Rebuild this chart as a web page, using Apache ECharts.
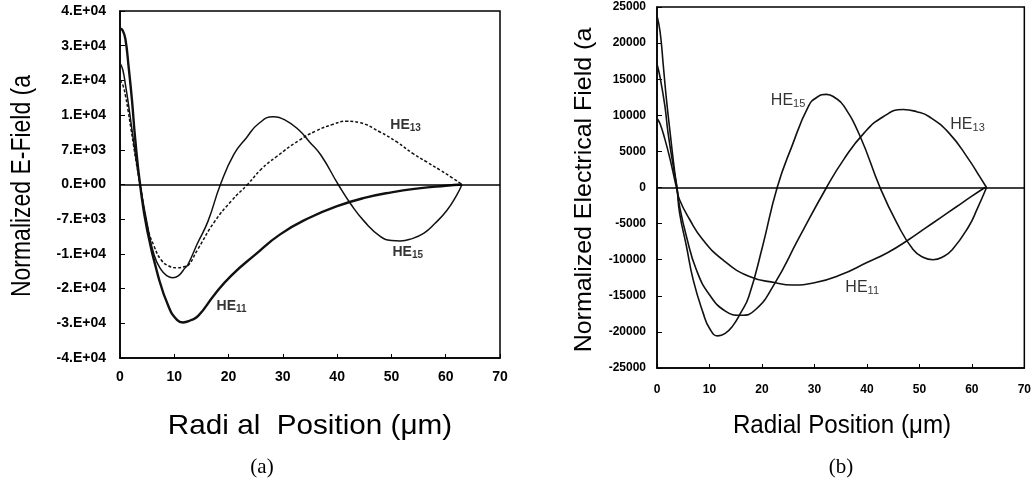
<!DOCTYPE html>
<html><head><meta charset="utf-8">
<script src="https://cdn.jsdelivr.net/npm/echarts@6/dist/echarts.min.js"></script>
<style>html,body{margin:0;padding:0;background:#fff}#c{width:1034px;height:485px}</style>
</head><body><div id="c"></div>
<script>
// ---------- data ----------
const xTickLabels = ['0', '10', '20', '30', '40', '50', '60', '70'];
const leftYTickLabels = ['-4.E+04', '-3.E+04', '-2.E+04', '-1.E+04', '-7.E+03', '0.E+00', '7.E+03', '1.E+04', '2.E+04', '3.E+04', '4.E+04'];
const rightYTickLabels = ['-25000', '-20000', '-15000', '-10000', '-5000', '0', '5000', '10000', '15000', '20000', '25000'];

// (a) Normalized E-Field, radial position in µm
const leftHE11 = [[0,36000],[0.5,35500],[1,33500],[1.6,27000],[2.2,19500],[2.8,10500],[3.7,0],[5,-10500],[7,-21000],[9,-28300],[10.5,-31200],[11.6,-31800],[13,-31300],[14.4,-30300],[17.4,-25400],[20.5,-21000],[24.8,-16300],[29.5,-11500],[35,-7600],[40,-5000],[45,-3100],[50,-1800],[55,-900],[60,-300],[63,0]];
const leftHE13 = [[0,24000],[0.5,23000],[1,20500],[1.5,17000],[2,13000],[2.5,9000],[3,5000],[3.7,0],[5,-9500],[6.3,-14300],[7.6,-17400],[9,-18800],[10.5,-19200],[12,-18900],[12.5,-18700],[14.3,-15000],[17.4,-8600],[20.5,-3800],[23.5,0],[26,3500],[28.8,6400],[33,10200],[36,12300],[39.3,13900],[41.7,14600],[44,14300],[47.9,12100],[51,9800],[54,7100],[56.5,5200],[59,3300],[61,1700],[63,0]];
const leftHE15 = [[0,28000],[0.5,26500],[1,23000],[1.5,19000],[2,14500],[2.5,10000],[3,5500],[3.7,0],[5,-9000],[6.3,-16300],[7.6,-19700],[8.6,-21000],[9.7,-21500],[10.8,-21000],[12,-19200],[12.5,-18500],[14.3,-13500],[16.2,-8500],[18.5,0],[21,7000],[23.3,10800],[25.5,14000],[28.2,15600],[30.5,14800],[33,12500],[35,9700],[37,6800],[40.2,0],[42.5,-4500],[45,-8500],[48,-12000],[50,-12900],[51.6,-13000],[53.5,-12600],[56,-11200],[58,-9000],[60.2,-6000],[62,-2500],[63,0]];

// (b) Normalized Electrical Field, radial position in µm
const rightHE11 = [[0,9600],[0.6,8800],[1.5,6700],[2.5,3900],[3.7,0],[4.3,-1700],[6.2,-4400],[8.7,-7200],[12.5,-10000],[17.5,-12300],[22.6,-13200],[25.7,-13500],[30,-13200],[35,-12100],[40,-10400],[44,-9000],[48,-7200],[51,-5700],[54,-4200],[57,-2700],[60,-1200],[62.5,0]];
const rightHE13 = [[0,17100],[0.6,15200],[1.5,11300],[2.1,7600],[3.1,2950],[3.8,0],[4.3,-2600],[5.6,-6750],[7.5,-11400],[10,-14850],[13.1,-17150],[15.9,-17700],[18.8,-16900],[22.5,-13200],[26.9,-7200],[32.3,0],[35.6,3900],[39.4,7500],[43.1,9800],[46.9,10800],[49.5,10500],[51.9,9800],[55.7,7500],[59.4,3900],[61.5,1500],[62.8,0]];
const rightHE15 = [[0,23800],[0.6,21500],[1.2,16900],[1.8,12200],[2.5,7600],[3.4,2000],[3.8,0],[4.3,-3500],[5.6,-8100],[6.9,-12800],[8.8,-17400],[10,-19500],[11.6,-20550],[13,-20200],[14.4,-19200],[16,-17300],[17.5,-15100],[20.1,-8200],[22.9,0],[25.7,5700],[28.9,11300],[30.5,12500],[32.3,12900],[34,12400],[35.6,11300],[38.7,7100],[42.5,0],[45.7,-4900],[48.8,-8600],[50.8,-9700],[52.6,-10000],[54.5,-9600],[56.3,-8600],[59.4,-5400],[61,-3000],[62.8,0]];

// curve annotations: [main, subscript]
const leftLabelText = [['HE','11'], ['HE','13'], ['HE','15']];
const leftLabelAnchor = [[17.7,-28100], [49.7,13660], [50.1,-15700]];
const rightLabelText = [['HE','15'], ['HE','13'], ['HE','11']];
const rightLabelAnchor = [[21.6,12000], [55.8,8750], [35.8,-13900]];

// ---------- chart ----------
const FONT = 'Liberation Sans, Arial, sans-serif';
const chart = echarts.init(document.getElementById('c'), null, {renderer: 'canvas'});

function xAxisCfg(gi, fs, margin) {
  return {
    type: 'value', gridIndex: gi, min: 0, max: 70, interval: 10,
    axisLine: {show: true, onZero: false, lineStyle: {color: '#000', width: 1.5}},
    axisTick: {show: true, inside: true, length: 4, lineStyle: {color: '#000', width: 1}},
    axisLabel: {color: '#000', fontSize: fs, fontWeight: 'bold', fontFamily: FONT, margin: margin,
      formatter: v => xTickLabels[Math.round(v / 10)]},
    splitLine: {show: false}
  };
}
function yAxisCfg(gi, min, max, step, labels, fs, margin) {
  return {
    type: 'value', gridIndex: gi, min: min, max: max, interval: step,
    axisLine: {show: true, onZero: false, lineStyle: {color: '#000', width: 1.5}},
    axisTick: {show: true, inside: true, length: 5, lineStyle: {color: '#000', width: 1}},
    axisLabel: {color: '#000', fontSize: fs, fontWeight: 'bold', fontFamily: FONT, margin: margin,
      formatter: v => labels[Math.round((v - min) / step)]},
    splitLine: {show: false}
  };
}
function lineSeries(gi, data, width, type, zero) {
  const s = {
    type: 'line', xAxisIndex: gi, yAxisIndex: gi, data: data, showSymbol: false, symbol: 'none',
    smooth: 0.5,
    lineStyle: {color: '#111', width: width, type: type}, silent: true, z: 3
  };
  if (zero) {
    s.markLine = {silent: true, symbol: ['none', 'none'], label: {show: false},
      lineStyle: {color: '#000', width: 1.5, type: 'solid'}, data: [{yAxis: 0}], animation: false};
  }
  return s;
}
function labelSeries(gi, texts, anchors, big, small, weight) {
  return {
    type: 'scatter', xAxisIndex: gi, yAxisIndex: gi, symbolSize: 1, silent: true, z: 5,
    itemStyle: {color: 'rgba(0,0,0,0)'},
    data: anchors.map((a, i) => ({value: a})),
    label: {
      show: true, position: 'right', distance: 0, color: '#000',
      formatter: p => '{a|' + texts[p.dataIndex][0] + '}{b|' + texts[p.dataIndex][1] + '}',
      rich: {
        a: {fontSize: big, fontWeight: weight, fontFamily: FONT, color: '#000', lineHeight: big + 2},
        b: {fontSize: small, fontWeight: weight, fontFamily: FONT, color: '#000', lineHeight: small - 1, verticalAlign: 'bottom'}
      }
    }
  };
}

const option = {
  animation: false,
  backgroundColor: '#fff',
  grid: [
    {left: 120, top: 11, width: 380, height: 347, show: true, borderColor: '#000', borderWidth: 1.5, backgroundColor: 'transparent'},
    {left: 657, top: 7, width: 372, height: 361, show: true, borderColor: '#000', borderWidth: 1.5, backgroundColor: 'transparent'}
  ],
  xAxis: [xAxisCfg(0, 14, 12), xAxisCfg(1, 12, 16)],
  yAxis: [
    yAxisCfg(0, -40000, 40000, 8000, leftYTickLabels, 14, 14),
    yAxisCfg(1, -25000, 25000, 5000, rightYTickLabels, 12, 11)
  ],
  series: [
    lineSeries(0, leftHE11, 2.4, 'solid', true),
    lineSeries(0, leftHE15, 1.5, 'solid', false),
    lineSeries(0, leftHE13, 1.5, [3, 2], false),
    lineSeries(1, rightHE11, 1.6, 'solid', true),
    lineSeries(1, rightHE15, 1.6, 'solid', false),
    lineSeries(1, rightHE13, 1.6, 'solid', false),
    labelSeries(0, leftLabelText, leftLabelAnchor, 14, 10, 'bold'),
    labelSeries(1, rightLabelText, rightLabelAnchor, 16, 11, 'normal')
  ],
  graphic: [
    {type: 'text', x: 22, y: 186, rotation: Math.PI / 2, scaleX: 0.82, silent: true,
      style: {text: 'Normalized E-Field (a', fontSize: 28, fontFamily: FONT, fill: '#000', align: 'center', verticalAlign: 'middle'}},
    {type: 'text', x: 310, y: 426, scaleX: 1.06, silent: true,
      style: {text: 'Radi al  Position (\u03bcm)', fontSize: 28, fontFamily: FONT, fill: '#000', align: 'center', verticalAlign: 'middle'}},
    {type: 'text', x: 584, y: 190, rotation: Math.PI / 2, scaleX: 1.04, silent: true,
      style: {text: 'Normalized Electrical Field (a', fontSize: 24, fontFamily: FONT, fill: '#000', align: 'center', verticalAlign: 'middle'}},
    {type: 'text', x: 842, y: 426, scaleX: 0.93, silent: true,
      style: {text: 'Radial Position (\u03bcm)', fontSize: 26, fontFamily: FONT, fill: '#000', align: 'center', verticalAlign: 'middle'}},
    {type: 'text', x: 262, y: 467, silent: true,
      style: {text: '(a)', fontSize: 21, fontFamily: 'Liberation Serif, Times New Roman, serif', fill: '#000', align: 'center', verticalAlign: 'middle'}},
    {type: 'text', x: 841, y: 467, silent: true,
      style: {text: '(b)', fontSize: 21, fontFamily: 'Liberation Serif, Times New Roman, serif', fill: '#000', align: 'center', verticalAlign: 'middle'}}
  ]
};
chart.setOption(option);
</script>
</body></html>
